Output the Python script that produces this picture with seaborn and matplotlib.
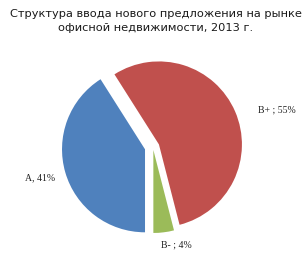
import numpy as np
import matplotlib.pyplot as plt
import seaborn as sns

sns.set_style("white")
plt.rcParams['font.family'] = ['DejaVu Sans']

# данные
labels = ['A, 41%', 'B+ ; 55%', 'B- ; 4%']
shares = [41, 55, 4]
colors = ['#4F81BD', '#C0504D', '#9BBB59']
title = 'Структура ввода нового предложения на рынке\nофисной недвижимости, 2013 г.'

# раскладка
explode = [0.10, 0.078, 0.036]
label_dist = [1.41, 1.56, 1.21]
label_shift = [-1.0, -7.0, 6.0]  # поправка угла подписи, градусы

fig = plt.figure(figsize=(3.08, 2.61), dpi=100)
ax = fig.add_axes([0.1464, 0.0234, 0.7006, 0.8268])

wedges, _ = ax.pie(shares, colors=colors, explode=explode, startangle=270,
                   counterclock=False, radius=1.0,
                   wedgeprops=dict(linewidth=0))

for w, lab, d, sh in zip(wedges, labels, label_dist, label_shift):
    mid = np.deg2rad((w.theta1 + w.theta2) / 2 + sh)
    ax.text(d * np.cos(mid), d * np.sin(mid), lab,
            ha='center', va='center', fontsize=7, color='#222222',
            family=['Liberation Serif', 'DejaVu Serif'])

ax.set_xlim(-1.3, 1.3)
ax.set_ylim(-1.3, 1.3)
ax.set_aspect('equal')
ax.axis('off')

fig.text(0.506, 0.967, title, ha='center', va='top', fontsize=8.2,
         color='#1a1a1a', linespacing=1.5)

fig.savefig('out.png', dpi=100)
